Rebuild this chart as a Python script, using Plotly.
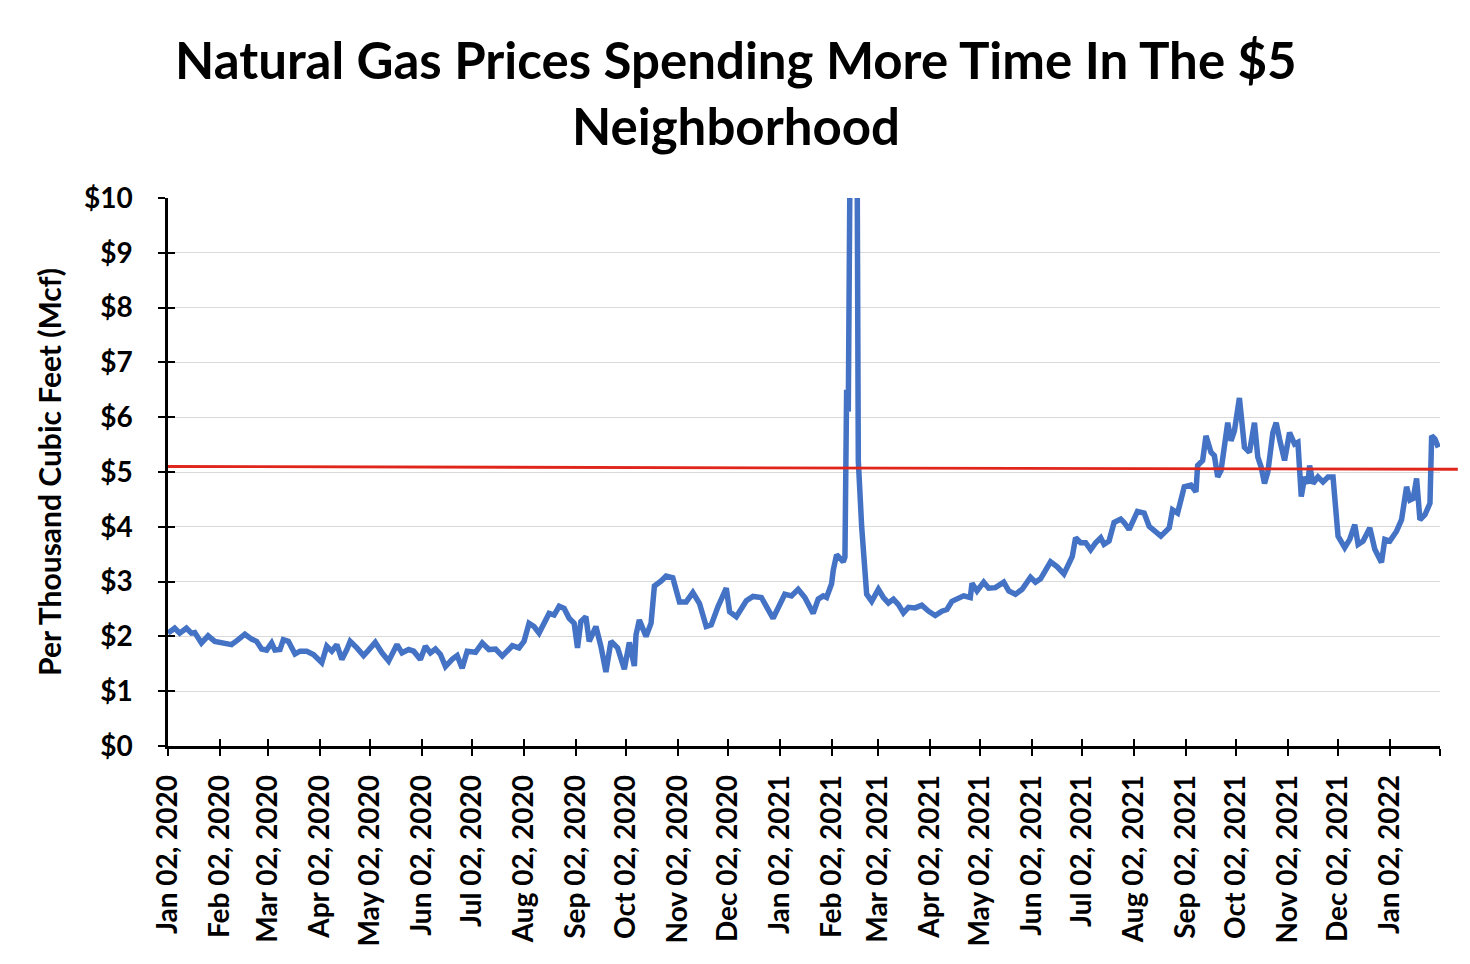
import pandas as pd
import plotly.graph_objects as go

# ---------------- data ----------------
START_DATE = "2020-01-02"
# days after Jan 02, 2020
day_offset = [
    0, 4, 7, 11, 14, 16, 20, 24, 28, 33, 35, 38, 42, 46, 50, 53, 56, 59, 62, 64,
    67, 69, 72, 76, 79, 83, 87, 92, 95, 98, 101, 104, 107, 109, 113, 117, 120, 124, 128, 132,
    137, 140, 144, 147, 151, 154, 157, 160, 163, 166, 170, 173, 176, 179, 184, 188, 192, 196, 200, 206,
    210, 213, 216, 219, 222, 225, 228, 231, 234, 237, 240, 243, 245, 247, 250, 252, 256, 259, 262, 265,
    269, 273, 276, 279, 280, 282, 286, 289, 291, 295, 298, 302, 306, 310, 314, 318, 322, 325, 329, 334,
    336, 340, 346, 350, 355, 362, 369, 373, 377, 381, 386, 389, 392, 394, 397, 398, 400, 402, 404, 405,
    406, 407, 408, 411, 412, 413, 415, 418, 421, 425, 428, 431, 434, 437, 440, 443, 447, 451, 455, 459,
    463, 466, 469, 472, 476, 480, 481, 484, 488, 491, 495, 500, 503, 507, 511, 516, 519, 522, 525, 528,
    532, 536, 539, 541, 543, 546, 549, 552, 555, 558, 560, 563, 566, 570, 572, 575, 580, 584, 587, 591,
    594, 599, 601, 604, 608, 612, 615, 616, 619, 621, 624, 626, 628, 630, 632, 634, 636, 638, 641, 644,
    647, 650, 652, 654, 656, 658, 661, 663, 665, 668, 671, 674, 676, 678, 680, 682, 683, 685, 688, 691,
    694, 697, 700, 704, 707, 710, 712, 715, 719, 722, 726, 728, 731, 735, 738, 741, 743, 745, 747, 749,
    752, 755, 756, 758, 760,
]
price = [
    2.06, 2.15, 2.06, 2.15, 2.06, 2.07, 1.88, 2.01, 1.91, 1.88, 1.89, 1.85, 1.94, 2.04, 1.95, 1.91, 1.77, 1.75, 1.88, 1.75,
    1.76, 1.94, 1.91, 1.68, 1.73, 1.73, 1.67, 1.52, 1.82, 1.73, 1.85, 1.58, 1.76, 1.91, 1.79, 1.65, 1.75, 1.89, 1.70, 1.55,
    1.85, 1.70, 1.76, 1.73, 1.58, 1.82, 1.70, 1.77, 1.67, 1.45, 1.58, 1.65, 1.42, 1.73, 1.71, 1.88, 1.76, 1.77, 1.64, 1.83,
    1.79, 1.91, 2.24, 2.18, 2.06, 2.24, 2.42, 2.39, 2.55, 2.51, 2.33, 2.24, 1.79, 2.27, 2.36, 1.91, 2.18, 1.82, 1.35, 1.91,
    1.79, 1.40, 1.89, 1.46, 2.03, 2.30, 2.00, 2.24, 2.92, 3.01, 3.10, 3.07, 2.63, 2.63, 2.80, 2.60, 2.18, 2.21, 2.54, 2.88,
    2.45, 2.36, 2.65, 2.73, 2.71, 2.33, 2.77, 2.74, 2.86, 2.71, 2.42, 2.68, 2.74, 2.71, 2.96, 3.21, 3.49, 3.43, 3.36, 3.45,
    6.50, 6.10, 20.00, 23.86, 13.00, 5.20, 4.00, 2.77, 2.64, 2.86, 2.71, 2.61, 2.68, 2.58, 2.43, 2.53, 2.52, 2.57, 2.46, 2.38,
    2.46, 2.49, 2.64, 2.69, 2.74, 2.71, 2.97, 2.83, 2.99, 2.88, 2.89, 2.99, 2.83, 2.77, 2.86, 3.08, 2.99, 3.05, 3.21, 3.36,
    3.27, 3.14, 3.33, 3.46, 3.80, 3.71, 3.71, 3.58, 3.71, 3.80, 3.68, 3.74, 4.08, 4.14, 4.08, 3.95, 4.28, 4.25, 4.01, 3.92,
    3.83, 3.98, 4.31, 4.25, 4.73, 4.76, 4.64, 5.12, 5.21, 5.66, 5.36, 5.30, 4.91, 5.03, 5.45, 5.90, 5.57, 5.75, 6.35, 5.45,
    5.36, 5.90, 5.27, 5.09, 4.79, 5.00, 5.72, 5.90, 5.60, 5.21, 5.72, 5.51, 5.54, 4.55, 4.91, 4.79, 5.12, 4.79, 4.91, 4.82,
    4.91, 4.91, 3.83, 3.62, 3.77, 4.04, 3.68, 3.74, 3.98, 3.59, 3.35, 3.77, 3.74, 3.92, 4.13, 4.73, 4.49, 4.52, 4.88, 4.13,
    4.22, 4.43, 5.66, 5.60, 5.45,
]

# red "$5 neighborhood" reference line (start value, end value)
ref_line_values = [5.10, 5.05]

tick_dates = [
    "2020-01-02", "2020-02-02", "2020-03-02", "2020-04-02", "2020-05-02", "2020-06-02",
    "2020-07-02", "2020-08-02", "2020-09-02", "2020-10-02", "2020-11-02", "2020-12-02",
    "2021-01-02", "2021-02-02", "2021-03-02", "2021-04-02", "2021-05-02", "2021-06-02",
    "2021-07-02", "2021-08-02", "2021-09-02", "2021-10-02", "2021-11-02", "2021-12-02",
    "2022-01-02", "2022-02-01",
]
tick_labels = [
    "Jan 02, 2020", "Feb 02, 2020", "Mar 02, 2020", "Apr 02, 2020", "May 02, 2020", "Jun 02, 2020",
    "Jul 02, 2020", "Aug 02, 2020", "Sep 02, 2020", "Oct 02, 2020", "Nov 02, 2020", "Dec 02, 2020",
    "Jan 02, 2021", "Feb 02, 2021", "Mar 02, 2021", "Apr 02, 2021", "May 02, 2021", "Jun 02, 2021",
    "Jul 02, 2021", "Aug 02, 2021", "Sep 02, 2021", "Oct 02, 2021", "Nov 02, 2021", "Dec 02, 2021",
    "Jan 02, 2022", "",
]
y_ticks = [0, 1, 2, 3, 4, 5, 6, 7, 8, 9, 10]
y_tick_labels = ["$0", "$1", "$2", "$3", "$4", "$5", "$6", "$7", "$8", "$9", "$10"]
x_range = ["2020-01-02", "2022-02-01"]
y_range = [0, 10]

title_lines = ["Natural Gas Prices Spending More Time In The $5", "Neighborhood"]
y_title = "Per Thousand Cubic Feet (Mcf)"

# ---------------- figure ----------------
dates = pd.Timestamp(START_DATE) + pd.to_timedelta(day_offset, unit="D")

FONT = "Lato"
fig = go.Figure()
fig.add_trace(go.Scatter(
    x=dates, y=price, mode="lines",
    line=dict(color="#4472C4", width=5.5),
    showlegend=False,
))
# empty trace so that the overlay axes (inner half of the cross tick marks) are drawn
fig.add_trace(go.Scatter(x=[], y=[], xaxis="x2", yaxis="y2", showlegend=False, hoverinfo="skip"))

fig.add_shape(
    type="line", xref="paper", yref="y",
    x0=0, x1=1.014, y0=ref_line_values[0], y1=ref_line_values[1],
    line=dict(color="#E0251B", width=2.8), layer="above",
)

fig.add_annotation(text=title_lines[0], xref="paper", yref="paper", x=0.4465, y=1.252,
                   xanchor="center", yanchor="middle", showarrow=False,
                   font=dict(family=FONT, size=51, color="black", weight="bold"))
fig.add_annotation(text=title_lines[1], xref="paper", yref="paper", x=0.4465, y=1.133,
                   xanchor="center", yanchor="middle", showarrow=False,
                   font=dict(family=FONT, size=51, color="black", weight="bold"))

tick_font = dict(family=FONT, size=28, color="black", weight="bold")

fig.update_layout(
    width=1462, height=956,
    margin=dict(l=160, r=30, t=190, b=218),
    paper_bgcolor="white", plot_bgcolor="white",
    xaxis=dict(
        type="date", range=x_range,
        tickmode="array", tickvals=tick_dates, ticktext=tick_labels,
        tickangle=-90, tickfont=tick_font,
        ticks="outside", ticklen=7, tickwidth=2, tickcolor="black",
        showline=True, linecolor="black", linewidth=2.5,
        showgrid=False, zeroline=False,
        ticklabelstandoff=8,
    ),
    yaxis=dict(
        range=y_range, tickmode="array", tickvals=y_ticks, ticktext=y_tick_labels,
        tickfont=tick_font,
        ticks="outside", ticklen=7, tickwidth=2, tickcolor="black",
        showline=True, linecolor="black", linewidth=2.5,
        showgrid=True, gridcolor="#D9D9D9", gridwidth=1.2, zeroline=False,
        ticklabelstandoff=20,
        title=dict(text=y_title, font=dict(family=FONT, size=30, color="black", weight="bold"),
                   standoff=14),
    ),
    xaxis2=dict(
        type="date", range=x_range, overlaying="x", anchor="y2",
        tickmode="array", tickvals=tick_dates,
        ticks="inside", ticklen=7, tickwidth=2, tickcolor="black",
        showticklabels=False, showgrid=False, showline=False, zeroline=False,
    ),
    yaxis2=dict(
        range=y_range, overlaying="y", anchor="x2",
        tickmode="array", tickvals=y_ticks,
        ticks="inside", ticklen=7, tickwidth=2, tickcolor="black",
        showticklabels=False, showgrid=False, showline=False, zeroline=False,
    ),
)

fig.write_html("out.html")
